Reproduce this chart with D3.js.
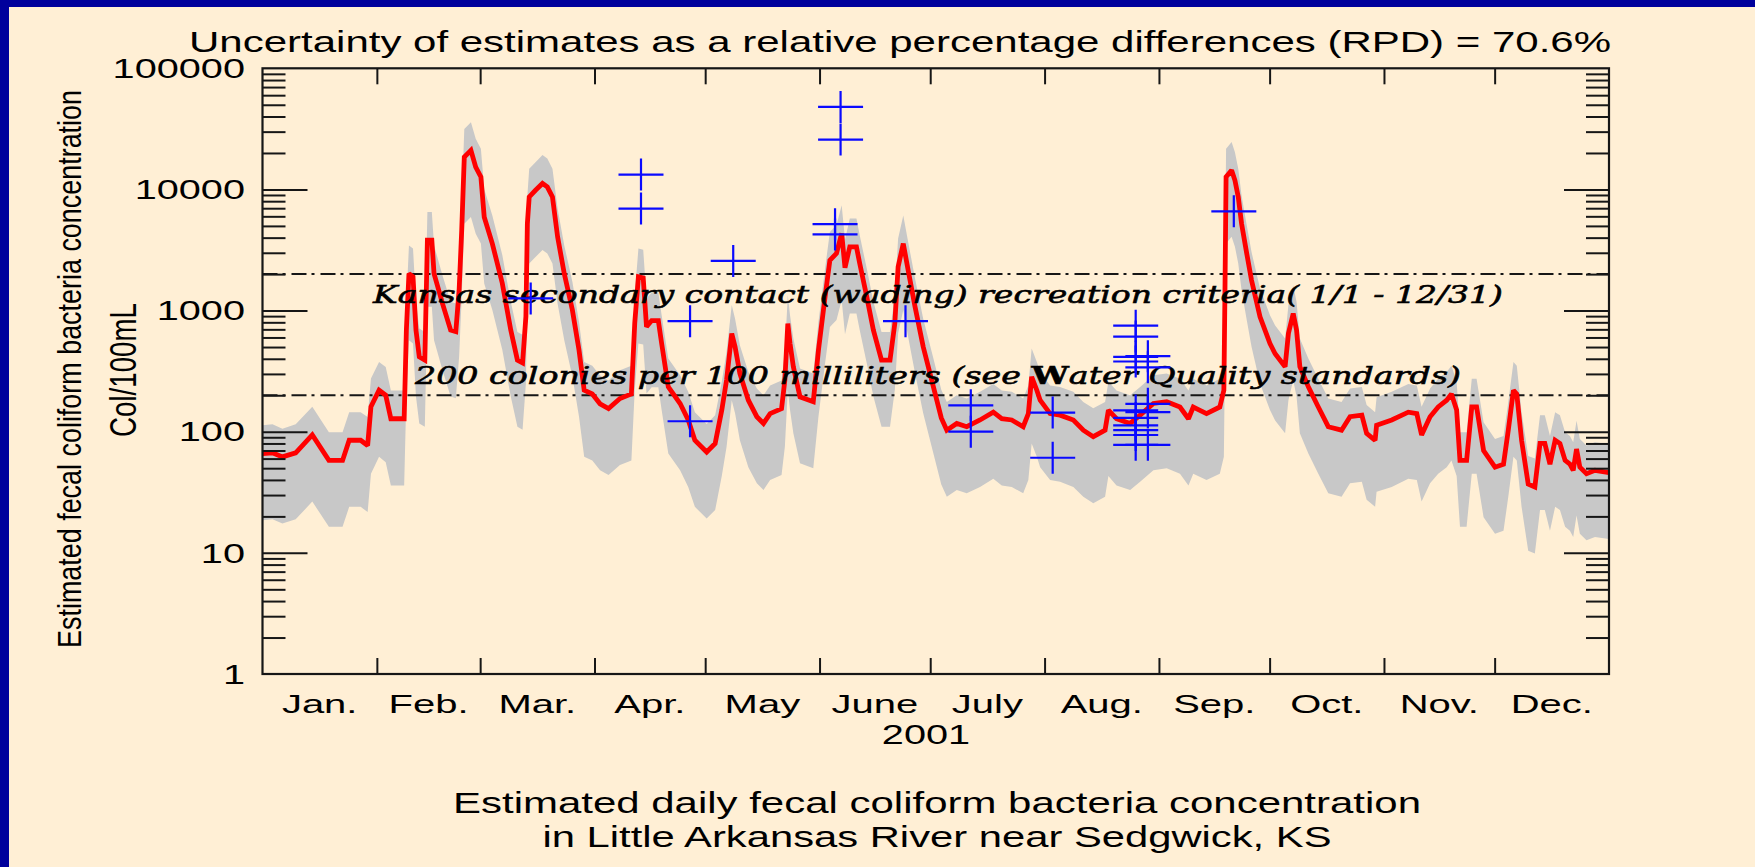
<!DOCTYPE html>
<html>
<head>
<meta charset="utf-8">
<script src="https://cdn.jsdelivr.net/npm/d3@7"></script>
<style>
  html, body { margin: 0; padding: 0; background: #00009c; }
  svg { display: block; }
</style>
</head>
<body>
<svg id="chart" width="1755" height="867"></svg>
<script>
// ---- Daily estimates (day of year 2001, col/100mL) ----
const days = [
  0,2.7,5.4,9,13.5,18,21.7,23.5,26.6,28.5,29.4,31.6,33.4,34.8,38.4,39,39.7,40.8,41.6,42.5,44,44.7,45.9,46.5,48.8,51,52.4,
  53.3,54,54.7,56.5,57.8,59.2,60.1,62.3,65,67.3,69.1,70.5,71.4,71.8,72.3,74,75.9,77.2,78.6,80,81.8,84,85.8,87.2,89.4,91.5,
  93.8,96.9,100,100.9,101.9,103.2,104.1,105.5,107.3,108.2,110,113.2,115.4,117.2,120.4,122.7,124.5,125.8,127.2,128.1,129.4,131.7,134,135.8,137.6,140.7,141.6,142.4,143,143.9,145.7,149.3,150.7,
  152.5,153.8,155.6,157,157.9,159.2,161,161.9,163.8,165.6,167.8,170.1,171.4,172.3,173.7,175,176.9,179.1,181.4,184,
  185.5,188.2,190.9,194.5,198.1,200.4,203.1,206.2,207.6,208.5,209.9,210.8,213.5,216.2,219.8,222.5,225.2,228.4,229.3,231.5,235.2,237.9,241.5,245.1,248.7,251,252.3,255.9,259.5,260.6,
  260.9,261.2,262.7,263.6,264.5,265.4,266.8,268.1,270.4,273.1,274.5,277.2,278.1,279.4,280.3,281.2,283.5,286.2,288.9,292.5,294.8,298,299.3,301.6,302,306.1,310.6,312.9,314.2,316.5,318.7,321,322.3,323.7,
  324.6,326.4,327.8,329.1,331,334.1,336.4,337.7,339.1,340,341.3,343.1,344.9,346.3,347.6,349,350.4,351.7,353.1,354.4,355.3,356.2,357.1,358.9,361.2,365
];
const estimate = [
  66,67,62,67,94,58,58,85,85,77,161,220,200,128,128,690,2020,1900,690,415,390,3810,3810,2020,1140,690,670,
  1470,4600,18500,21000,15300,12700,5930,3570,1680,690,390,370,890,5220,8670,9840,11200,10500,8670,4050,2020,1010,471,220,205,170,
  155,188,205,782,1900,1860,734,827,827,535,235,171,125,85,68,80,151,267,647,502,303,182,133,117,141,155,267,782,535,344,194,177,471,
  1300,2600,2970,4330,2260,3360,3360,2440,1300,690,390,390,782,2300,3570,2170,1070,502,267,130,
  103,117,110,125,145,128,125,110,141,284,220,182,141,137,125,103,91,103,151,128,117,137,171,177,160,128,160,141,160,220,
  1470,12700,14400,11900,8670,5220,2960,1780,887,535,440,344,647,946,690,344,235,160,110,103,133,137,97,85,113,125,145,141,94,133,160,182,205,151,
  58,58,160,160,70,51,54,103,220,205,85,37,35,80,80,54,85,80,58,54,48,72,51,45,48,46
];
// Upper and lower edges of the uncertainty band
const upper = [
  113,115,106,115,161,99,99,145,145,132,275,376,342,219,219,1180,3450,3250,1180,710,667,6520,6520,3450,1950,1180,1146,
  2510,7870,31600,35900,26200,21700,10100,6100,2870,1180,667,633,1520,8930,14800,16800,19200,18000,14800,6930,3450,1730,805,376,351,291,
  265,321,351,1340,3250,3180,1260,1410,1410,915,402,292,214,145,116,137,258,457,1110,858,518,311,227,200,241,265,457,1340,915,588,332,303,805,
  2220,4450,5080,7400,3860,5750,5750,4170,2220,1180,667,667,1340,3930,6100,3710,1830,858,457,222,
  176,200,188,214,248,219,214,188,241,486,376,311,241,234,214,176,156,176,258,219,200,234,292,303,274,219,274,241,274,376,
  2510,21700,24600,20300,14800,8930,5060,3040,1520,915,752,588,1110,1620,1180,588,402,274,188,176,227,234,166,145,193,214,248,241,161,227,274,311,351,258,
  99,99,274,274,120,87,92,176,376,351,145,63,60,137,137,92,145,137,99,92,82,123,87,77,82,79
];
const lower = [
  18.6,18.9,17.5,18.9,26.5,16.4,16.4,24,24,21.7,45,62,56,36,36,195,570,536,195,117,110,1074,1074,570,321,195,189,
  415,1300,5220,5920,4310,3580,1670,1010,474,195,110,104,251,1470,2450,2770,3160,2960,2450,1140,570,285,133,62,58,48,
  44,53,58,221,536,525,207,233,233,151,66,48,35,24,19.2,22.6,43,75,182,142,85,51,37.5,33,40,44,75,221,151,97,55,50,133,
  367,733,838,1220,637,948,948,688,367,195,110,110,221,649,1010,612,302,142,75,36.7,
  29,33,31,35,41,36,35,31,40,80,62,51,40,38.6,35,29,25.7,29,43,36,33,38.6,48,50,45,36,45,40,45,62,
  415,3580,4060,3360,2450,1470,835,502,250,151,124,97,182,267,195,97,66,45,31,29,37.5,38.6,27.4,24,32,35,41,40,26.5,37.5,45,51,58,43,
  16.4,16.4,45,45,19.7,14.4,15.2,29,62,58,24,10.4,9.9,22.6,22.6,15.2,24,22.6,16.4,15.2,13.5,20.3,14.4,12.7,13.5,13
];

// ---- Measured samples ----
const sampleDays = [
  72.7, 102.6, 102.6, 115.9, 115.9, 127.6, 155.2, 155.2, 156.7, 156.7, 174.3,
  192, 192, 214.2, 214.2,
  236.7, 236.7, 236.7, 236.7, 236.7, 236.7, 236.7, 236.7, 236.7, 236.7,
  240, 240, 240, 240, 240,
  263.3
];
const sampleValues = [
  1260, 13260, 6950, 817, 122, 2570, 5170, 4250, 48000, 25800, 817,
  165, 100, 144, 61,
  750, 610, 415, 380, 150, 130, 113, 103, 94, 78,
  420, 340, 170, 145, 78,
  6600
];

// ---- Criteria, ticks and labels ----
const criteriaValues = [2000, 200];
const monthLabels = ["Jan.","Feb.","Mar.","Apr.","May","June","July","Aug.","Sep.","Oct.","Nov.","Dec."];
const yTickValues = [1, 10, 100, 1000, 10000, 100000];
const yTickLabels = ["1", "10", "100", "1000", "10000", "100000"];
const titleText = "Uncertainty of estimates as a relative percentage differences (RPD) = 70.6%";
const yTitle = "Estimated fecal coliform bacteria concentration";
const yUnits = "Col/100mL";
const yearLabel = "2001";
const captionLines = ["Estimated daily fecal coliform bacteria concentration",
                      "in Little Arkansas River near Sedgwick, KS"];

if (![estimate, upper, lower].every(a => a.length === days.length) ||
    sampleDays.length !== sampleValues.length) {
  throw new Error("series length mismatch");
}

// ---- Layout ----
const W = 1755, H = 867;
const plotL = 262.5, plotR = 1609, plotT = 68.3, plotB = 674;
const SANS = "'Liberation Sans', Arial, Helvetica, sans-serif";
const SERIF = "'DejaVu Serif', 'Liberation Serif', serif";
const INK = "#161616";

const svg = d3.select("#chart");
svg.append("rect").attr("width", W).attr("height", H).attr("fill", "#00009c");
svg.append("rect").attr("x", 9).attr("y", 7).attr("width", W - 9).attr("height", H - 7).attr("fill", "#ffefd5");

const t0 = Date.UTC(2001, 0, 1), t1 = Date.UTC(2002, 0, 1), DAY = 864e5;
const toDate = d => new Date(t0 + d * DAY);
const x = d3.scaleUtc().domain([t0, t1]).range([plotL, plotR]);
const y = d3.scaleLog().domain([1, 100000]).range([plotB, plotT]);

const series = days.map((d, i) => ({ date: toDate(d), est: estimate[i], hi: upper[i], lo: lower[i] }));

// uncertainty band
svg.append("path").datum(series)
  .attr("d", d3.area().x(d => x(d.date)).y0(d => y(d.lo)).y1(d => y(d.hi)))
  .attr("fill", "#c8c8c8");

// criteria lines (dash-dot)
svg.selectAll("line.crit").data(criteriaValues).join("line")
  .attr("class", "crit")
  .attr("x1", plotL).attr("x2", plotR)
  .attr("y1", d => y(d)).attr("y2", d => y(d))
  .attr("stroke", INK).attr("stroke-width", 2)
  .attr("stroke-dasharray", "15,5,3,6");

// estimated concentration
svg.append("path").datum(series)
  .attr("d", d3.line().x(d => x(d.date)).y(d => y(d.est)))
  .attr("fill", "none").attr("stroke", "#ff0000")
  .attr("stroke-width", 4.8).attr("stroke-linejoin", "miter").attr("stroke-miterlimit", 2);

// criteria captions
const critText = svg.append("g").attr("font-family", SERIF).attr("font-style", "italic")
  .attr("font-size", 25).attr("fill", "#000").attr("stroke", "#000").attr("stroke-width", 0.6);
critText.append("text")
  .attr("x", 373).attr("y", y(criteriaValues[0]) + 29)
  .attr("textLength", 1130).attr("lengthAdjust", "spacingAndGlyphs")
  .text("Kansas secondary contact (wading) recreation criteria( 1/1 - 12/31)");
const c2 = critText.append("text")
  .attr("x", 415).attr("y", y(criteriaValues[1]) - 11)
  .attr("textLength", 1046).attr("lengthAdjust", "spacingAndGlyphs");
c2.append("tspan").text("200 colonies per 100 milliliters (see ");
c2.append("tspan").attr("font-style", "normal").attr("font-weight", "bold").text("W");
c2.append("tspan").text("ater Quality standards)");

// samples as crosses
svg.append("g").selectAll("path").data(sampleDays.map((d, i) => [toDate(d), sampleValues[i]])).join("path")
  .attr("d", d => {
    const cx = x(d[0]), cy = y(d[1]);
    return `M${cx - 22.5},${cy}H${cx + 22.5}M${cx},${cy - 16}V${cy + 16}`;
  })
  .attr("stroke", "#0a0aff").attr("stroke-width", 2.2).attr("fill", "none");

// ---- Axes ----
const axes = svg.append("g").attr("stroke-width", 2);
const monthStarts = d3.utcMonth.range(new Date(Date.UTC(2001, 1, 1)), new Date(t1));
const minorVals = [];
[1, 10, 100, 1000, 10000].forEach(dec => { for (let k = 2; k <= 9; k++) minorVals.push(k * dec); });
const majorVals = yTickValues.slice(1, -1);

function styleAxis(g) {
  g.select(".domain").remove();
  g.selectAll(".tick line").attr("stroke", INK).attr("stroke-width", 2);
  g.selectAll(".tick text").remove();
}
axes.append("g").attr("transform", `translate(0,${plotB})`)
  .call(d3.axisBottom(x).tickValues(monthStarts).tickSize(-16).tickFormat("")).call(styleAxis);
axes.append("g").attr("transform", `translate(0,${plotT})`)
  .call(d3.axisTop(x).tickValues(monthStarts).tickSize(-16).tickFormat("")).call(styleAxis);
axes.append("g").attr("transform", `translate(${plotL},0)`)
  .call(d3.axisLeft(y).tickValues(minorVals).tickSize(-23).tickFormat("")).call(styleAxis);
axes.append("g").attr("transform", `translate(${plotL},0)`)
  .call(d3.axisLeft(y).tickValues(majorVals).tickSize(-45).tickFormat("")).call(styleAxis);
axes.append("g").attr("transform", `translate(${plotR},0)`)
  .call(d3.axisRight(y).tickValues(minorVals).tickSize(-23).tickFormat("")).call(styleAxis);
axes.append("g").attr("transform", `translate(${plotR},0)`)
  .call(d3.axisRight(y).tickValues(majorVals).tickSize(-45).tickFormat("")).call(styleAxis);
axes.append("rect").attr("x", plotL).attr("y", plotT)
  .attr("width", plotR - plotL).attr("height", plotB - plotT)
  .attr("fill", "none").attr("stroke", INK).attr("stroke-width", 2.2);

// ---- Text ----
const txt = svg.append("g").attr("font-family", SANS).attr("fill", "#000");

function stretched(str, px, py, size, sx, anchor) {
  return txt.append("text")
    .attr("transform", `translate(${px},${py}) scale(${sx},1)`)
    .attr("text-anchor", anchor).attr("font-size", size).text(str);
}

// title
txt.append("text").attr("x", 900).attr("y", 52).attr("text-anchor", "middle")
  .attr("font-size", 29).attr("textLength", 1422).attr("lengthAdjust", "spacingAndGlyphs")
  .text(titleText);

// y tick labels
yTickValues.forEach((v, i) => stretched(yTickLabels[i], 245, y(v) + 9.7, 27, 1.47, "end"));

// month labels at mid-month
const monthBounds = d3.utcMonth.range(new Date(t0), new Date(t1 + DAY));
monthLabels.forEach((m, i) => {
  const mid = (x(monthBounds[i]) + x(monthBounds[i + 1])) / 2;
  stretched(m, mid, 713, 25, 1.6, "middle");
});
stretched(yearLabel, 926, 744, 27, 1.47, "middle");

// caption
txt.append("text").attr("x", 937).attr("y", 813).attr("text-anchor", "middle")
  .attr("font-size", 29).attr("textLength", 968).attr("lengthAdjust", "spacingAndGlyphs")
  .text(captionLines[0]);
txt.append("text").attr("x", 937).attr("y", 847).attr("text-anchor", "middle")
  .attr("font-size", 29).attr("textLength", 789).attr("lengthAdjust", "spacingAndGlyphs")
  .text(captionLines[1]);

// rotated y titles
txt.append("text")
  .attr("transform", "translate(81,369) scale(1.42,1) rotate(-90)")
  .attr("text-anchor", "middle").attr("font-size", 24)
  .attr("textLength", 558).attr("lengthAdjust", "spacingAndGlyphs")
  .text(yTitle);
txt.append("text")
  .attr("transform", "translate(136,370) scale(1.42,1) rotate(-90)")
  .attr("text-anchor", "middle").attr("font-size", 26)
  .attr("textLength", 134).attr("lengthAdjust", "spacingAndGlyphs")
  .text(yUnits);
</script>
</body>
</html>
